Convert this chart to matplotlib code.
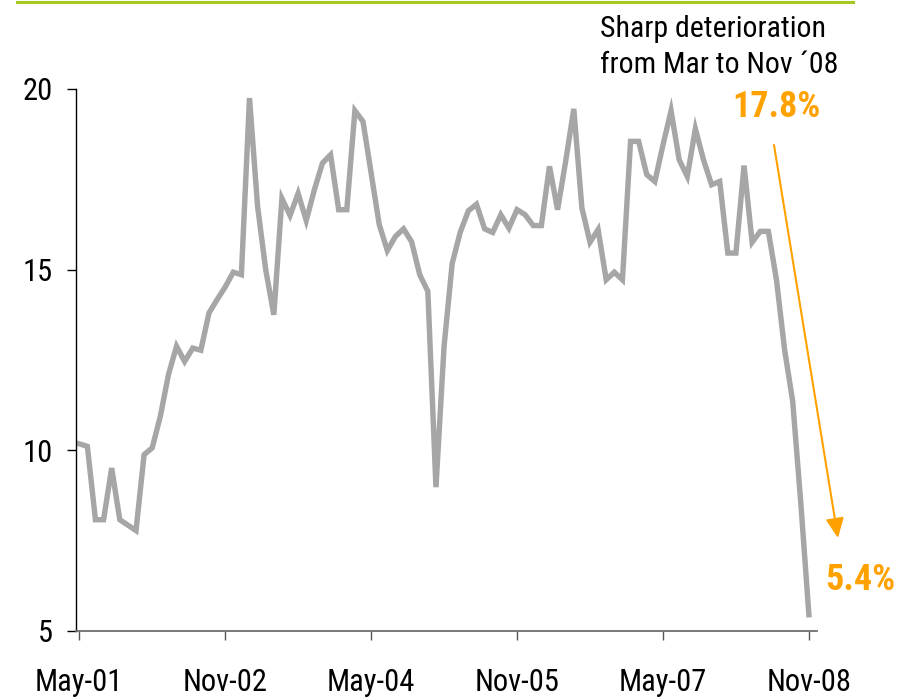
import matplotlib.pyplot as plt
from matplotlib.patches import FancyArrowPatch
from matplotlib.lines import Line2D

# Monthly values, May-01 .. Nov-08
values = [10.18, 10.11, 8.08, 8.08, 9.51, 8.08, 7.93, 7.78, 9.88, 10.07,
          10.94, 12.09, 12.88, 12.46, 12.83, 12.77, 13.80, 14.17, 14.52, 14.93,
          14.86, 19.75, 16.75, 15.00, 13.75, 16.97, 16.50, 17.11, 16.36, 17.21,
          17.95, 18.18, 16.66, 16.66, 19.40, 19.10, 17.68, 16.25, 15.53, 15.92,
          16.13, 15.77, 14.86, 14.40, 8.98, 12.88, 15.17, 16.04, 16.63, 16.81,
          16.13, 16.03, 16.52, 16.15, 16.66, 16.52, 16.22, 16.22, 17.86, 16.66,
          18.00, 19.45, 16.71, 15.76, 16.11, 14.72, 14.93, 14.72, 18.55, 18.55,
          17.63, 17.44, 18.45, 19.40, 18.04, 17.58, 18.90, 18.04, 17.35, 17.44,
          15.46, 15.46, 17.88, 15.76, 16.06, 16.06, 14.72, 12.79, 11.36, 8.55,
          5.45]
months = list(range(len(values)))

xtick_pos = [0, 18, 36, 54, 72, 90]
xtick_labels = ['May-01', 'Nov-02', 'May-04', 'Nov-05', 'May-07', 'Nov-08']
ytick_pos = [5, 10, 15, 20]

note_lines = ['Sharp deterioration', 'from Mar to Nov \u00b408']
start_label = '17.8%'
end_label = '5.4%'

font = ['Roboto Condensed', 'DejaVu Sans']
orange = '#ffa200'

W, H = 912, 698
fig = plt.figure(figsize=(W / 100, H / 100), dpi=100)
ax = fig.add_axes([76 / W, 1 - 631 / H, (817 - 76) / W, (631 - 89) / H])

ax.plot(months, values, color='#a6a6a6', lw=3.9, solid_joinstyle='miter', clip_on=False)

ax.set_xlim(-0.4, 91.0)
ax.set_ylim(5, 20)
ax.set_xticks(xtick_pos)
ax.set_xticklabels(xtick_labels)
ax.set_yticks(ytick_pos)

for s in ['top', 'right']:
    ax.spines[s].set_visible(False)
ax.spines['left'].set_color('black')
ax.spines['left'].set_linewidth(1.0)
ax.spines['bottom'].set_color('#6e6e6e')
ax.spines['bottom'].set_linewidth(1.3)

ax.tick_params(axis='y', direction='out', length=6.5, width=1.0, color='black', pad=10)
ax.tick_params(axis='x', direction='out', length=6.5, width=1.0, color='#555555', pad=20)
for lab in ax.get_xticklabels() + ax.get_yticklabels():
    lab.set_family(font)
    lab.set_fontsize(22)

# green rule at the top
fig.add_artist(Line2D([17 / W, 853 / W], [1 - 1.5 / H, 1 - 1.5 / H], color='#a3c81f', lw=2.2,
                      transform=fig.transFigure))

# annotation text
fig.text(600 / W, 1 - 36.7 / H, note_lines[0], family=font, fontsize=21.5, va='baseline', ha='left')
fig.text(600 / W, 1 - 73.0 / H, note_lines[1], family=font, fontsize=21.5, va='baseline', ha='left')
fig.text(732 / W, 1 - 117 / H, start_label, family=font, fontsize=26, fontweight='bold',
         color=orange, va='baseline', ha='left')
fig.text(825 / W, 1 - 590 / H, end_label, family=font, fontsize=26, fontweight='bold',
         color=orange, va='baseline', ha='left')

arrow = FancyArrowPatch((774 / W, 1 - 145 / H), (838 / W, 1 - 538 / H),
                        transform=fig.transFigure, arrowstyle='-|>,head_length=12,head_width=5.5',
                        mutation_scale=1, color=orange, lw=1.5, shrinkA=0, shrinkB=0)
fig.add_artist(arrow)

fig.savefig('out.png', dpi=100)
